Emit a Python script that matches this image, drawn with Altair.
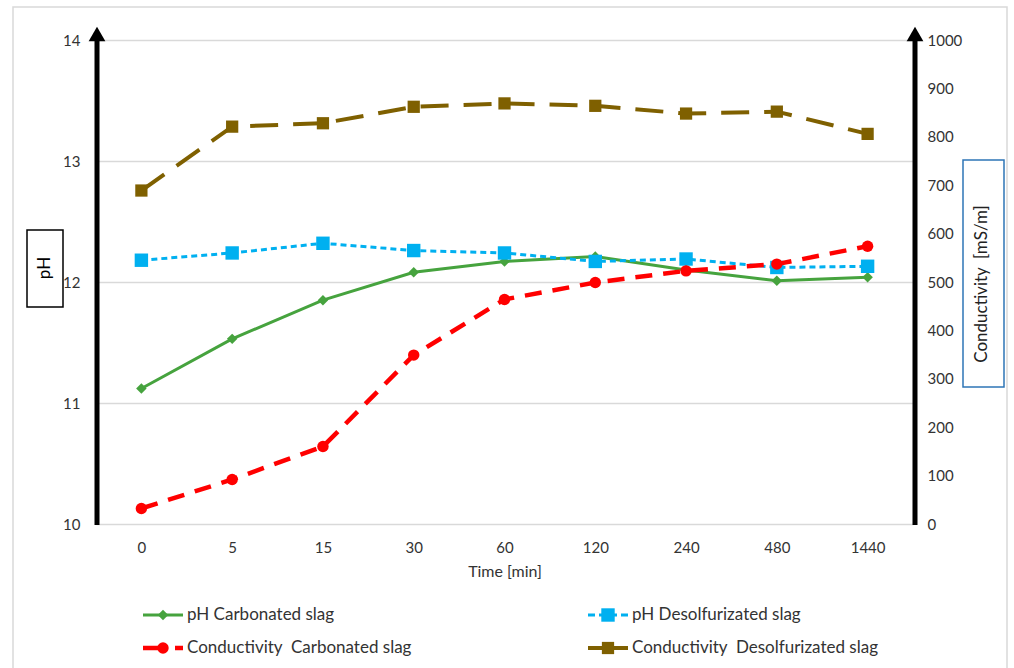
import altair as alt
import pandas as pd

# ---- data ----
time_labels = ["0", "5", "15", "30", "60", "120", "240", "480", "1440"]
ph_carbonated = [11.12, 11.53, 11.85, 12.08, 12.17, 12.21, 12.10, 12.01, 12.04]
ph_desulfurized = [12.18, 12.24, 12.32, 12.26, 12.24, 12.17, 12.19, 12.12, 12.13]
cond_carbonated = [32, 92, 160, 349, 464, 499, 523, 537, 574]
cond_desulfurized = [689, 821, 828, 862, 869, 864, 848, 852, 806]

series_names = [
    "pH Carbonated slag",
    "pH Desolfurizated slag",
    "Conductivity\u00a0 Carbonated slag",
    "Conductivity\u00a0 Desolfurizated slag",
]

W, H = 817, 484
FONT = "Lato"
TXT = "#333333"

GREEN = "#46a33e"
BLUE = "#00b0f0"
RED = "#ff0000"
BROWN = "#7f6000"


def series_df(values, name):
    return pd.DataFrame({"Time": time_labels, "value": values, "series": name})


xenc = alt.X(
    "Time:N",
    sort=time_labels,
    scale=alt.Scale(type="point", padding=0.5),
    axis=alt.Axis(
        title="Time [min]",
        labelAngle=0,
        domain=False,
        ticks=False,
        grid=False,
        labelPadding=16,
        titlePadding=8,
    ),
)

ph_scale = alt.Scale(domain=[10, 14], nice=False, zero=False)
ph_axis = alt.Axis(
    values=[10, 11, 12, 13, 14],
    grid=True,
    gridColor="#d9d9d9",
    gridWidth=1.5,
    domain=False,
    ticks=False,
    labelPadding=16,
    title=None,
)
cond_scale = alt.Scale(domain=[0, 1000], nice=False, zero=True)
cond_axis = alt.Axis(
    orient="right",
    values=list(range(0, 1001, 100)),
    format="d",
    grid=False,
    domain=False,
    ticks=False,
    labelPadding=14,
    title=None,
)


def series_layer(values, name, scale, axis, color, width, dash, shape, size):
    base = alt.Chart(series_df(values, name)).encode(
        x=xenc, y=alt.Y("value:Q", scale=scale, axis=axis)
    )
    line_kw = dict(color=color, strokeWidth=width)
    if dash:
        line_kw["strokeDash"] = dash
    line = base.mark_line(**line_kw)
    pts = base.mark_point(shape=shape, size=size, filled=True, color=color, opacity=1)
    return alt.layer(line, pts)


styles = [
    (GREEN, 3, None, "diamond", 110),
    (BLUE, 3, [6, 4], "square", 180),
    (RED, 4.5, [17, 11], "circle", 130),
    (BROWN, 4, [28, 15], "square", 150),
]
legend_dash = [None, [7, 4], [25, 7], None]

green = series_layer(ph_carbonated, series_names[0], ph_scale, ph_axis, *styles[0])
blue = series_layer(ph_desulfurized, series_names[1], ph_scale, ph_axis, *styles[1])
red = series_layer(cond_carbonated, series_names[2], cond_scale, cond_axis, *styles[2])
brown = series_layer(cond_desulfurized, series_names[3], cond_scale, cond_axis, *styles[3])

data_layer = alt.layer(alt.layer(green, blue), alt.layer(red, brown)).resolve_scale(
    y="independent"
)

one = pd.DataFrame({"a": [0]})
deco = []

# outer light frame
deco.append(
    alt.Chart(one)
    .mark_rect(fillOpacity=0, stroke="#d9d9d9", strokeWidth=1.5)
    .encode(x=alt.value(-83), x2=alt.value(911), y=alt.value(-33), y2=alt.value(640))
)

# thick black axis arrows
for xa in (1, W + 2):
    deco.append(
        alt.Chart(one)
        .mark_rule(color="black", strokeWidth=5)
        .encode(x=alt.value(xa), y=alt.value(H + 1), y2=alt.value(-4))
    )
    deco.append(
        alt.Chart(one)
        .mark_point(shape="triangle-up", filled=True, color="black", opacity=1, size=280)
        .encode(x=alt.value(xa), y=alt.value(-6))
    )

# boxed axis titles
deco.append(
    alt.Chart(one)
    .mark_rect(fillOpacity=0, stroke="black", strokeWidth=1.5)
    .encode(x=alt.value(-69), x2=alt.value(-33), y=alt.value(190), y2=alt.value(267))
)
deco.append(
    alt.Chart(one)
    .mark_text(text="pH", angle=270, font=FONT, fontSize=17, color="black")
    .encode(x=alt.value(-51), y=alt.value(228))
)
deco.append(
    alt.Chart(one)
    .mark_rect(fillOpacity=0, stroke="#2e75b6", strokeWidth=1.5)
    .encode(x=alt.value(867), x2=alt.value(908), y=alt.value(120), y2=alt.value(347))
)
deco.append(
    alt.Chart(one)
    .mark_text(text="Conductivity\u00a0 [mS/m]", angle=270, font=FONT, fontSize=17, color="#222222")
    .encode(x=alt.value(886), y=alt.value(244))
)

# custom legend
leg_x = [47, 492]
leg_y = [575, 608]
for i, name in enumerate(series_names):
    color, width, dash, shape, size = styles[i]
    col, row = i % 2, i // 2
    x0 = leg_x[col]
    y0 = leg_y[row]
    rule_kw = dict(color=color, strokeWidth=width)
    if legend_dash[i]:
        rule_kw["strokeDash"] = legend_dash[i]
    deco.append(
        alt.Chart(one)
        .mark_rule(**rule_kw)
        .encode(x=alt.value(x0), x2=alt.value(x0 + 40), y=alt.value(y0))
    )
    deco.append(
        alt.Chart(one)
        .mark_point(shape=shape, size=size, filled=True, color=color, opacity=1)
        .encode(x=alt.value(x0 + 20), y=alt.value(y0))
    )
    deco.append(
        alt.Chart(one)
        .mark_text(text=name, align="left", baseline="middle", font=FONT, fontSize=17, color=TXT)
        .encode(x=alt.value(x0 + 44), y=alt.value(y0))
    )

chart = (
    alt.layer(data_layer, *deco)
    .resolve_scale(y="independent")
    .properties(
        width=W,
        height=H,
        autosize=alt.AutoSizeParams(type="none"),
        padding={"left": 96, "top": 40, "right": 1014 - 96 - W, "bottom": 668 - 40 - H},
        background="white",
    )
    .configure_view(strokeWidth=0)
    .configure_axis(
        labelFont=FONT,
        labelFontSize=15,
        labelColor=TXT,
        titleFont=FONT,
        titleFontSize=16,
        titleFontWeight="normal",
        titleColor=TXT,
    )
)

chart.save("out.html", embed_options={"renderer": "svg", "actions": False})
